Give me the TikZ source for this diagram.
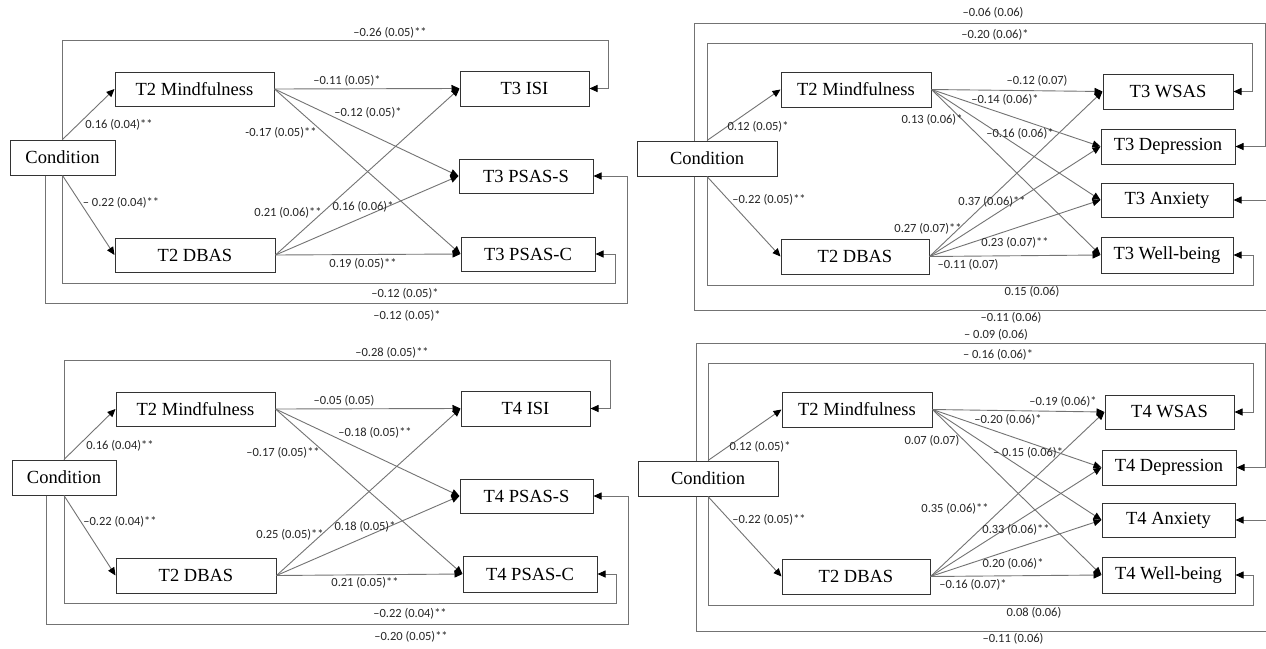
\documentclass[tikz,border=0pt]{standalone}
\usepackage{fontspec}
\setmainfont{Liberation Serif}
\newfontfamily\labfont{Carlito}
\usetikzlibrary{arrows.meta}
\tikzset{
  box/.style={draw=black!80, line width=1pt, fill=white, inner sep=0pt, font=\fontsize{18.5}{20}\selectfont},
  conn/.style={draw=black!55, line width=0.9pt},
  arr/.style={conn, -{Triangle[length=8pt,width=7pt,color=black]}},
  lab/.style={font=\labfont\fontsize{12.5}{14}\selectfont, inner sep=0pt, text=black!85}
}
\newcommand\lab[4]{\node[lab] (#1) at (#2,#3) {#4};}
\begin{document}
\begin{tikzpicture}[x=1pt,y=-1pt]
\useasboundingbox (0,0) rectangle (1266,648);
\clip (0,0) rectangle (1266,648);
\fill[white] (0,0) rectangle (1266,648);

%% ---------------- Panel 1 (top-left)
\node[box,minimum width=105pt,minimum height=35pt] (c1) at (62.5,157.5) {Condition};
\node[box,minimum width=159pt,minimum height=34pt] (m1) at (194.5,89) {T2 Mindfulness};
\node[box,minimum width=160pt,minimum height=34pt] (d1) at (195,255) {T2 DBAS};
\node[box,minimum width=129pt,minimum height=35pt] (i1) at (524.5,88.5) {T3 ISI};
\node[box,minimum width=134pt,minimum height=34pt] (s1) at (526,176) {T3 PSAS-S};
\node[box,minimum width=134pt,minimum height=34pt] (p1) at (528,254) {T3 PSAS-C};
\draw[arr] (c1.north) -- (m1.west);
\draw[arr] (c1.south) -- (d1.west);
\draw[arr] (m1.east) -- (i1.west);
\draw[arr] (m1.east) -- (s1.west);
\draw[arr] (m1.east) -- (p1.west);
\draw[arr] (d1.east) -- (i1.west);
\draw[arr] (d1.east) -- (s1.west);
\draw[arr] (d1.east) -- (p1.west);
\draw[arr] (c1.north) |- (608,40) |- (i1.east);
\draw[arr] (c1.south) |- (615,283) |- (p1.east);
\draw[arr] (c1.south -| 45,0) |- (627,303) |- (s1.east);
\lab{l1a}{390}{33}{–0.26 (0.05)**}
\lab{l1b}{347}{81}{–0.11 (0.05)*}
\lab{l1c}{368}{113}{–0.12 (0.05)*}
\lab{l1d}{281}{133}{-0.17 (0.05)**}
\lab{l1e}{119}{125}{0.16 (0.04)**}
\lab{l1f}{121}{203}{– 0.22 (0.04)**}
\lab{l1g}{288}{213}{0.21 (0.06)**}
\lab{l1h}{363}{207}{0.16 (0.06)*}
\lab{l1i}{363}{264}{0.19 (0.05)**}
\lab{l1j}{405}{294}{–0.12 (0.05)*}
\lab{l1k}{407}{316}{–0.12 (0.05)*}

%% ---------------- Panel 3 (bottom-left)
\node[box,minimum width=104pt,minimum height=35pt] (c3) at (64,477.5) {Condition};
\node[box,minimum width=159pt,minimum height=34pt] (m3) at (195.5,409) {T2 Mindfulness};
\node[box,minimum width=160pt,minimum height=35pt] (d3) at (196,575.5) {T2 DBAS};
\node[box,minimum width=129pt,minimum height=35pt] (i3) at (525.5,408.5) {T4 ISI};
\node[box,minimum width=133pt,minimum height=34pt] (s3) at (526.5,496) {T4 PSAS-S};
\node[box,minimum width=134pt,minimum height=36pt] (p3) at (530,574) {T4 PSAS-C};
\draw[arr] (c3.north) -- (m3.west);
\draw[arr] (c3.south) -- (d3.west);
\draw[arr] (m3.east) -- (i3.west);
\draw[arr] (m3.east) -- (s3.west);
\draw[arr] (m3.east) -- (p3.west);
\draw[arr] (d3.east) -- (i3.west);
\draw[arr] (d3.east) -- (s3.west);
\draw[arr] (d3.east) -- (p3.west);
\draw[arr] (c3.north) |- (610,360) |- (i3.east);
\draw[arr] (c3.south) |- (616,603) |- (p3.east);
\draw[arr] (c3.south -| 46,0) |- (628,624) |- (s3.east);
\lab{l3a}{120}{446}{0.16 (0.04)**}
\lab{l3b}{120}{522}{–0.22 (0.04)**}
\lab{l3c}{283}{453}{–0.17 (0.05)**}
\lab{l3d}{290}{535}{0.25 (0.05)**}
\lab{l3e}{392}{353}{–0.28 (0.05)**}
\lab{l3f}{344}{401}{–0.05 (0.05)}
\lab{l3g}{375}{433}{–0.18 (0.05)**}
\lab{l3h}{365}{527}{0.18 (0.05)*}
\lab{l3i}{365}{583}{0.21 (0.05)**}
\lab{l3j}{410}{614}{–0.22 (0.04)**}
\lab{l3k}{411}{637}{–0.20 (0.05)**}

%% ---------------- Panel 2 (top-right)
\node[box,minimum width=140pt,minimum height=35pt] (c2) at (707,158.5) {Condition};
\node[box,minimum width=150pt,minimum height=35pt] (m2) at (856,89.5) {T2 Mindfulness};
\node[box,minimum width=148pt,minimum height=35pt] (d2) at (855,256.5) {T2 DBAS};
\node[box,minimum width=130pt,minimum height=35pt] (w2) at (1168,91.5) {T3 WSAS};
\node[box,minimum width=134pt,minimum height=35pt] (e2) at (1168,146.5) {T3 Depression};
\node[box,minimum width=132pt,minimum height=34pt] (a2) at (1167,200) {T3 Anxiety};
\node[box,minimum width=132pt,minimum height=36pt] (b2) at (1167,255) {T3 Well-being};
\draw[arr] (c2.north) -- (m2.west);
\draw[arr] (c2.south) -- (d2.west);
\foreach \t in {w2,e2,a2,b2}{
  \draw[arr] (m2.east) -- (\t.west);
  \draw[arr] (d2.east) -- (\t.west);
}
\draw[arr] (c2.north) |- (1252,43) |- (w2.east);
\draw[arr] (c2.north -| 694,0) |- (1265,23) |- (e2.east);
\draw[arr] (c2.south) |- (1253,285) |- (b2.east);
\draw[arr] (c2.south -| 694,0) |- (1272,310) |- (a2.east);
\lab{l2a}{993}{13}{–0.06 (0.06)}
\lab{l2b}{995}{35}{–0.20 (0.06)*}
\lab{l2c}{758}{127}{0.12 (0.05)*}
\lab{l2d}{769}{200}{–0.22 (0.05)**}
\lab{l2e}{932}{120}{0.13 (0.06)*}
\lab{l2f}{928}{229}{0.27 (0.07)**}
\lab{l2g}{1037}{81}{–0.12 (0.07)}
\lab{l2h}{1005}{100}{–0.14 (0.06)*}
\lab{l2i}{1020}{134}{–0.16 (0.06)*}
\lab{l2j}{992}{202}{0.37 (0.06)**}
\lab{l2k}{1015}{243}{0.23 (0.07)**}
\lab{l2l}{968}{265}{–0.11 (0.07)}
\lab{l2m}{1032}{292}{0.15 (0.06)}
\lab{l2n}{1011}{318}{–0.11 (0.06)}

%% ---------------- Panel 4 (bottom-right)
\node[box,minimum width=140pt,minimum height=35pt] (c4) at (708,478.5) {Condition};
\node[box,minimum width=150pt,minimum height=35pt] (m4) at (857,409.5) {T2 Mindfulness};
\node[box,minimum width=148pt,minimum height=35pt] (d4) at (856,576.5) {T2 DBAS};
\node[box,minimum width=129pt,minimum height=34pt] (w4) at (1169.5,412) {T4 WSAS};
\node[box,minimum width=134pt,minimum height=35pt] (e4) at (1169,467.5) {T4 Depression};
\node[box,minimum width=133pt,minimum height=34pt] (a4) at (1168.5,520) {T4 Anxiety};
\node[box,minimum width=133pt,minimum height=36pt] (b4) at (1168.5,575) {T4 Well-being};
\draw[arr] (c4.north) -- (m4.west);
\draw[arr] (c4.south) -- (d4.west);
\foreach \t in {w4,e4,a4,b4}{
  \draw[arr] (m4.east) -- (\t.west);
  \draw[arr] (d4.east) -- (\t.west);
}
\draw[arr] (c4.north) |- (1253,363) |- (w4.east);
\draw[arr] (c4.north -| 696,0) |- (1265,343) |- (e4.east);
\draw[arr] (c4.south) |- (1253,605) |- (b4.east);
\draw[arr] (c4.south -| 696,0) |- (1272,631) |- (a4.east);
\lab{l4a}{996}{335}{– 0.09 (0.06)}
\lab{l4b}{998}{355}{– 0.16 (0.06)*}
\lab{l4c}{760}{447}{0.12 (0.05)*}
\lab{l4d}{769}{520}{–0.22 (0.05)**}
\lab{l4e}{932}{441}{0.07 (0.07)}
\lab{l4f}{1063}{402}{–0.19 (0.06)*}
\lab{l4g}{1008}{420}{–0.20 (0.06)*}
\lab{l4h}{1028}{453}{– 0.15 (0.06)*}
\lab{l4i}{955}{509}{0.35 (0.06)**}
\lab{l4j}{1016}{530}{0.33 (0.06)**}
\lab{l4k}{1013}{564}{0.20 (0.06)*}
\lab{l4l}{973}{585}{–0.16 (0.07)*}
\lab{l4m}{1034}{613}{0.08 (0.06)}
\lab{l4n}{1013}{639}{–0.11 (0.06)}
\end{tikzpicture}
\end{document}
